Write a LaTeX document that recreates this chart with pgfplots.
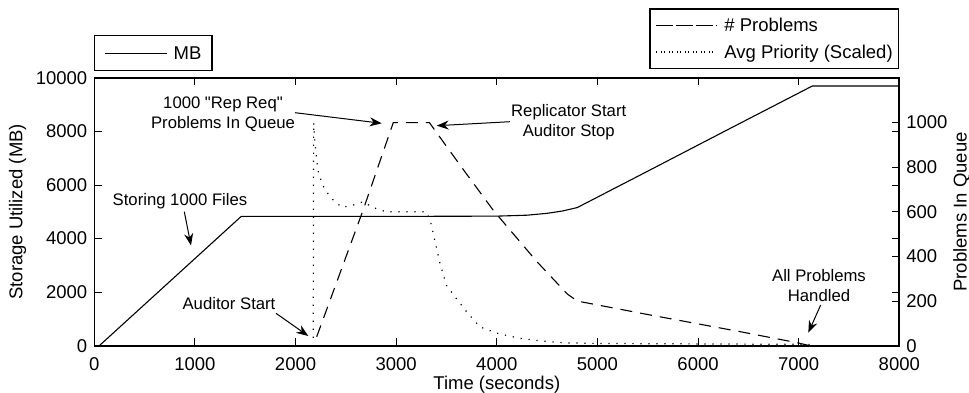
\documentclass[border=0pt]{standalone}
\usepackage{fontspec}
\setmainfont{Liberation Sans}[Ligatures=TeXOff]
\usepackage{pgfplots}
\pgfplotsset{compat=1.18}
\usetikzlibrary{arrows.meta}
\newcommand{\mainfs}{\fontsize{9.25bp}{11bp}\selectfont}
\newcommand{\annfs}{\fontsize{8.35bp}{10bp}\selectfont}
\pgfplotsset{
  mystyle/.style={
    scale only axis, width=402.5bp, height=133.85bp,
    at={(0,0)}, anchor=south west,
    xmin=0, xmax=8000,
    major tick length=3.7bp,
    every tick/.style={black, line width=0.5bp},
    axis line style={line width=0.8bp},
    tick label style={font=\mainfs},
    label style={font=\mainfs},
    /pgf/number format/assume math mode=true,
    /pgf/number format/1000 sep={},
    scaled ticks=false,
    legend cell align=left,
  },
  legimgA/.style={legend image code/.code={\path (0bp,0bp) -- (31.05bp,0bp); \draw[##1] (1.05bp,0bp) -- (31.05bp,0bp);}},
  legimgB/.style={legend image code/.code={\path (0bp,0bp) -- (30.15bp,0bp); \draw[##1] (2.65bp,0bp) -- (30.15bp,0bp);}},
}
\begin{document}
\begin{tikzpicture}
\useasboundingbox (-47.15bp,-23.65bp) rectangle (437.35bp,172.85bp);
\begin{axis}[mystyle,
  tick align=inside,
  ymin=0, ymax=10000,
  ytick={0,2000,...,10000},
  xtick={0,1000,...,8000},
  xtick pos=both, xticklabel pos=lower,
  ytick pos=both, yticklabel pos=left,
  xticklabel style={yshift=-2.4bp},
  xlabel={Time (seconds)},
  xlabel style={at={(axis description cs:0.5,-0.1468)}, anchor=center},
  ylabel={Storage Utilized (MB)},
  ylabel style={at={(axis description cs:-0.0954,0.5)}, anchor=center},
  legimgA,
  legend style={at={(0,1)}, anchor=south west, yshift=3.35bp, draw=black, line width=0.6bp, fill=white,
    inner xsep=4.8bp, inner ysep=4.95bp, column sep=2.5bp, font=\mainfs,
    nodes={inner sep=0.5bp, text height=6.6bp, text depth=0pt}},
]
\addplot[black, line width=0.55bp] coordinates {
(50,0) (1460,4830) (2000,4830) (3000,4830) (4000,4840) (4300,4875) (4500,4945)
(4650,5030) (4800,5160) (5500,6520) (6300,8080) (7135,9700) (8000,9700)};
\addlegendentry{MB}
\end{axis}
\begin{axis}[mystyle,
  ymin=0, ymax=1200,
  axis y line*=right, axis x line=none,
  tick align=inside,
  ytick={0,200,...,1000},
  ylabel={Problems In Queue},
  ylabel style={at={(axis description cs:1.0776,0.5)}, anchor=center},
  legimgB,
  legend style={at={(1,1)}, anchor=south east, yshift=4.5bp, draw=black, line width=0.6bp, fill=white,
    inner xsep=2.5bp, inner ysep=4.4bp, row sep=5.7bp, column sep=3.5bp, font=\mainfs,
    nodes={inner sep=0.5bp, text height=6.6bp, text depth=0pt}},
]
\addplot[black, line width=0.55bp, dash pattern=on 6bp off 4bp] coordinates {
(2210,40) (2673,610) (2971,1000) (3330,1000) (3650,800) (3965,607) (4400,376)
(4700,232) (4800,200) (5520,138) (6417,63) (7000,12) (7110,0)};
\addlegendentry{\# Problems}
\addplot[black, line width=0.6bp, dash pattern=on 0.6bp off 3.4bp] coordinates {
(2176,35) (2180,1000) (2195,900) (2210,830) (2230,770) (2290,700) (2370,655)
(2460,620) (2570,630) (2670,645) (2770,620) (2900,600) (3300,600) (3340,560)
(3390,460) (3435,370) (3500,270) (3600,210) (3700,152) (3830,85) (4000,56)
(4230,33) (4430,22) (4660,13) (5000,10) (6000,8) (7000,6) (7110,5)};
\addlegendentry{Avg Priority (Scaled)}
\end{axis}
\begin{scope}[font=\annfs]
\node[align=center, inner sep=0pt] at (64.35bp,115.85bp) {1000 "Rep Req"\\Problems In Queue};
\draw[line width=0.5bp, -{Stealth[length=6bp,width=4.5bp]}] (100.35bp,116.5bp) -- (143.7bp,111.2bp);
\node[align=center, inner sep=0pt] at (237.2bp,111.6bp) {Replicator Start\\Auditor Stop};
\draw[line width=0.5bp, -{Stealth[length=6bp,width=4.5bp]}] (207.85bp,112bp) -- (171.2bp,110bp);
\node[inner sep=0pt] at (42.85bp,72.35bp) {Storing 1000 Files};
\draw[line width=0.5bp, -{Stealth[length=6bp,width=4.5bp]}] (45bp,67bp) -- (48.35bp,50.1bp);
\node[inner sep=0pt] at (67.35bp,20.85bp) {Auditor Start};
\draw[line width=0.5bp, -{Stealth[length=6bp,width=4.5bp]}] (90.85bp,16.2bp) -- (107bp,4.85bp);
\node[align=center, inner sep=0pt] at (362.35bp,29.85bp) {All Problems\\Handled};
\draw[line width=0.5bp, -{Stealth[length=6bp,width=4.5bp]}] (363.2bp,20.35bp) -- (357bp,6.5bp);
\end{scope}
\end{tikzpicture}
\end{document}
